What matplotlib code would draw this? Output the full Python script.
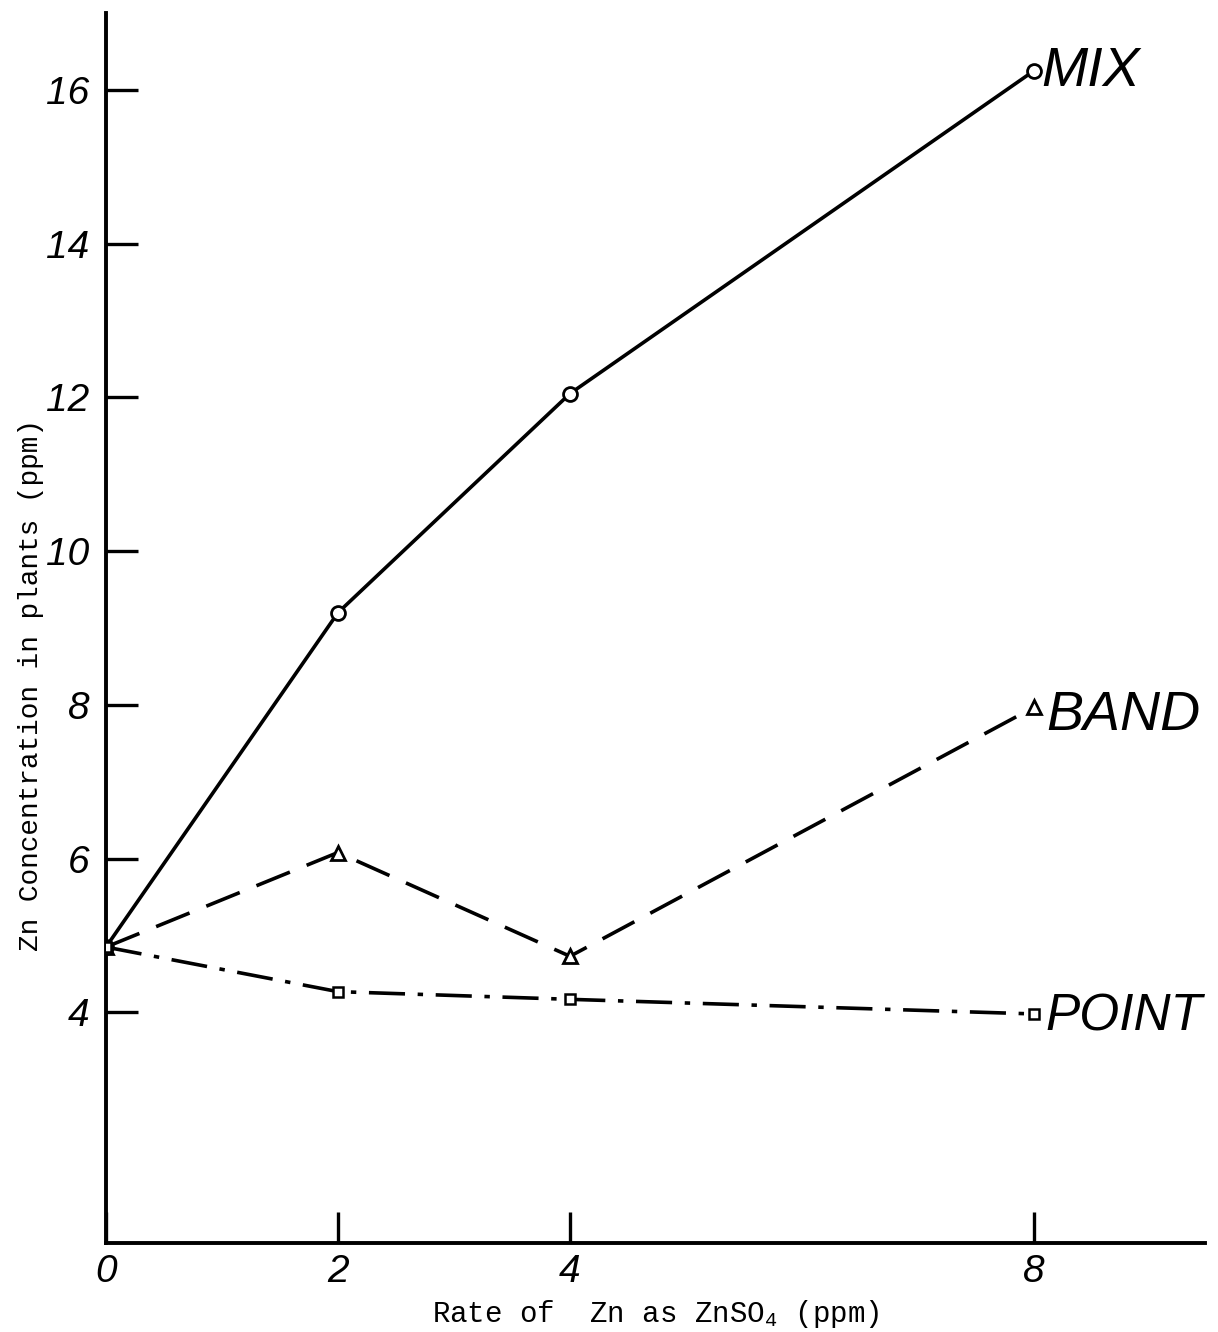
import matplotlib
matplotlib.use("Agg")
import matplotlib.pyplot as plt

# Zn rate applied (ppm) and Zn concentration found in the plants (ppm)
rate = [0, 2, 4, 8]
mix = [4.85, 9.2, 12.05, 16.25]
band = [4.85, 6.08, 4.73, 7.97]
point = [4.85, 4.27, 4.17, 3.98]

x_ticks = [0, 2, 4, 8]
y_ticks = [4, 6, 8, 10, 12, 14, 16]

plt.rcParams["font.family"] = ["Liberation Sans", "DejaVu Sans"]
plt.rcParams["mathtext.fontset"] = "custom"
plt.rcParams["mathtext.rm"] = "Liberation Mono"

fig = plt.figure(figsize=(12.18, 13.32), dpi=100)
ax = fig.add_axes([0.087, 0.0668, 0.902, 0.9234])

lw = 2.6
ax.plot(rate, mix, color="black", lw=lw, ls="-", marker="o", ms=10,
        mfc="white", mec="black", mew=2.0, zorder=3)
ax.plot(rate, band, color="black", lw=lw, ls=(0, (10, 5)), marker="^", ms=10,
        mfc="white", mec="black", mew=2.0, zorder=3)
ax.plot(rate, point, color="black", lw=lw, ls=(0, (10, 3.5, 1.5, 3.5)),
        marker="s", ms=7.5, mfc="white", mec="black", mew=1.8, zorder=3)

# series names written next to the last point
lab_kw = dict(fontstyle="italic", va="center", ha="left",
              textcoords="offset points", family=["Liberation Sans"])
ax.annotate("MIX", (rate[-1], mix[-1]), xytext=(5, -1), fontsize=40, **lab_kw)
ax.annotate("BAND", (rate[-1], band[-1]), xytext=(9, -6), fontsize=40, **lab_kw)
ax.annotate("POINT", (rate[-1], point[-1]), xytext=(8, -2), fontsize=37, **lab_kw)

ax.set_xlim(0, 9.47)
ax.set_ylim(1.0, 17.0)
ax.spines["top"].set_visible(False)
ax.spines["right"].set_visible(False)
for s in ("left", "bottom"):
    ax.spines[s].set_linewidth(2.8)

ax.set_xticks(x_ticks)
ax.set_yticks(y_ticks)
ax.tick_params(axis="both", direction="in", width=2.4, labelsize=28)
ax.tick_params(axis="y", length=23, pad=12)
ax.tick_params(axis="x", length=22, pad=8)
for t in ax.get_xticklabels() + ax.get_yticklabels():
    t.set_fontstyle("italic")

ax.set_xlabel(r"Rate of  Zn as ZnSO$_4$ (ppm)", family="Liberation Mono",
              fontsize=21, labelpad=6)
ax.set_ylabel("Zn Concentration in plants (ppm)", family="Liberation Mono",
              fontsize=20)
ax.yaxis.set_label_coords(-0.056, 0.454)

fig.savefig("out.png", dpi=100, facecolor="white")
